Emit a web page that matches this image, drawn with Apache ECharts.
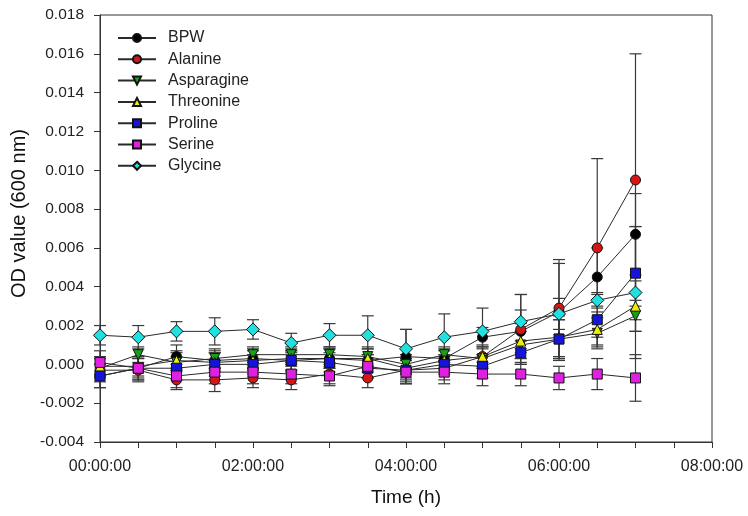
<!DOCTYPE html>
<html>
<head>
<meta charset="utf-8">
<script src="https://cdn.jsdelivr.net/npm/echarts@6/dist/echarts.min.js"></script>
<style>
  html, body { margin: 0; padding: 0; background: #fff; }
  #chart { width: 748px; height: 516px; }
</style>
</head>
<body>
<div id="chart"></div>
<script>
// Sampling times (hours)
const hours = [0, 0.5, 1, 1.5, 2, 2.5, 3, 3.5, 4, 4.5, 5, 5.5, 6, 6.5, 7];

// Mean OD600 per medium
const bpw        = [-0.0006, -0.0002, 0.0004, 0.0002, 0.0003, 0.0002, 0.0003, 0.0002, 0.0004, 0.0003, 0.0014, 0.0017, 0.0027, 0.0045, 0.0067];
const alanine    = [-0.0003, -0.0003, -0.0008, -0.0008, -0.0007, -0.0008, -0.0005, -0.0007, -0.0003, -0.0002, 0.0004, 0.0018, 0.0029, 0.0060, 0.0095];
const asparagine = [-0.0002, 0.0005, 0.0001, 0.0003, 0.0005, 0.0005, 0.0005, 0.0004, 0.0000, 0.0005, 0.0003, 0.0010, 0.0013, 0.0016, 0.0025];
const threonine  = [-0.0001, -0.0001, 0.0002, 0.0001, 0.0002, 0.0003, 0.0003, 0.0003, -0.0002, 0.0002, 0.0004, 0.0012, 0.0014, 0.0018, 0.0030];
const proline    = [-0.0006, -0.0002, -0.0002, 0.0000, 0.0000, 0.0002, 0.0001, -0.0002, -0.0003, 0.0000, -0.0001, 0.0006, 0.0013, 0.0023, 0.0047];
const serine     = [0.0001, -0.0002, -0.0006, -0.0004, -0.0004, -0.0005, -0.0006, -0.0001, -0.0004, -0.0004, -0.0005, -0.0005, -0.0007, -0.0005, -0.0007];
const glycine    = [0.0015, 0.0014, 0.0017, 0.0017, 0.0018, 0.0011, 0.0015, 0.0015, 0.0008, 0.0014, 0.0017, 0.0022, 0.0026, 0.0033, 0.0037];

// Standard deviations
const bpwErr        = [0.0006, 0.0005, 0.0006, 0.0005, 0.0005, 0.0006, 0.0005, 0.0006, 0.0014, 0.0005, 0.0005, 0.0011, 0.0025, 0.0015, 0.0021];
const alanineErr    = [0.0006, 0.0006, 0.0005, 0.0006, 0.0005, 0.0005, 0.0005, 0.0005, 0.0006, 0.0006, 0.0006, 0.0018, 0.0025, 0.0046, 0.0065];
const asparagineErr = [0.0005, 0.0004, 0.0005, 0.0005, 0.0004, 0.0004, 0.0004, 0.0005, 0.0005, 0.0004, 0.0005, 0.0007, 0.0010, 0.0008, 0.0008];
const threonineErr  = [0.0005, 0.0005, 0.0005, 0.0005, 0.0005, 0.0004, 0.0005, 0.0005, 0.0005, 0.0005, 0.0005, 0.0009, 0.0011, 0.0009, 0.0013];
const prolineErr    = [0.0006, 0.0006, 0.0006, 0.0006, 0.0005, 0.0005, 0.0005, 0.0005, 0.0005, 0.0005, 0.0006, 0.0006, 0.0010, 0.0013, 0.0024];
const serineErr     = [0.0006, 0.0006, 0.0006, 0.0006, 0.0006, 0.0005, 0.0005, 0.0006, 0.0006, 0.0006, 0.0006, 0.0006, 0.0006, 0.0008, 0.0012];
const glycineErr    = [0.0005, 0.0006, 0.0005, 0.0007, 0.0005, 0.0005, 0.0006, 0.0010, 0.0010, 0.0012, 0.0012, 0.0014, 0.0008, 0.0004, 0.0034];

// Series definitions
const groups = [
  { name: 'BPW',        mean: bpw,        err: bpwErr,        symbol: 'circle',   color: '#000000', size: 10 },
  { name: 'Alanine',    mean: alanine,    err: alanineErr,    symbol: 'circle',   color: '#d81414', size: 10 },
  { name: 'Asparagine', mean: asparagine, err: asparagineErr, symbol: 'path://M0,0 L10,0 L5,9 Z', color: '#18a018', size: 10 },
  { name: 'Threonine',  mean: threonine,  err: threonineErr,  symbol: 'triangle', color: '#eeee00', size: 10 },
  { name: 'Proline',    mean: proline,    err: prolineErr,    symbol: 'rect',     color: '#1414dc', size: 10 },
  { name: 'Serine',     mean: serine,     err: serineErr,     symbol: 'rect',     color: '#e020e0', size: 10 },
  { name: 'Glycine',    mean: glycine,    err: glycineErr,    symbol: 'diamond',  color: '#22e0e0', size: 13 }
];

const font = '"Liberation Sans", Arial, sans-serif';
const pad = n => (n < 10 ? '0' : '') + n;

const series = [];
groups.forEach((g, gi) => {
  // error bars (mean ± SD) with caps
  series.push({
    type: 'custom',
    name: g.name + ' SD',
    z: 1,
    silent: true,
    data: hours.map((h, i) => [h, g.mean[i] - g.err[i], g.mean[i] + g.err[i]]),
    renderItem: function (params, api) {
      const x = api.value(0);
      const lo = api.coord([x, api.value(1)]);
      const hi = api.coord([x, api.value(2)]);
      const hw = 6;
      const st = { stroke: '#3a3a3a', lineWidth: 1.2 };
      return {
        type: 'group',
        children: [
          { type: 'line', shape: { x1: lo[0], y1: lo[1], x2: hi[0], y2: hi[1] }, style: st },
          { type: 'line', shape: { x1: hi[0] - hw, y1: hi[1], x2: hi[0] + hw, y2: hi[1] }, style: st },
          { type: 'line', shape: { x1: lo[0] - hw, y1: lo[1], x2: lo[0] + hw, y2: lo[1] }, style: st }
        ]
      };
    },
    encode: { x: 0, y: [1, 2] }
  });
  // mean line with markers
  series.push({
    type: 'line',
    name: g.name,
    z: 3 + gi,
    data: hours.map((h, i) => [h, g.mean[i]]),
    symbol: g.symbol,
    symbolSize: g.size,
    showAllSymbol: true,
    lineStyle: { color: '#2a2a2a', width: 1 },
    itemStyle: { color: g.color, borderColor: '#111', borderWidth: 1 }
  });
});

const chart = echarts.init(document.getElementById('chart'), null, { renderer: 'canvas' });
chart.setOption({
  animation: false,
  backgroundColor: '#fff',
  grid: { left: 100, right: 36, top: 15, bottom: 74, show: true, borderColor: '#333', borderWidth: 1 },
  legend: {
    orient: 'vertical',
    left: 117,
    top: 30,
    padding: 0,
    itemWidth: 38,
    itemHeight: 10,
    itemGap: 5.3,
    data: groups.map(g => g.name),
    textStyle: { fontFamily: font, fontSize: 16, color: '#222', padding: [0, 0, 0, 7] }
  },
  xAxis: {
    type: 'value',
    min: 0,
    max: 8,
    interval: 2,
    name: 'Time (h)',
    nameLocation: 'middle',
    nameGap: 46,
    nameTextStyle: { fontFamily: font, fontSize: 19, color: '#111' },
    axisLine: { onZero: false, lineStyle: { color: '#333' } },
    axisTick: { show: true, inside: false, length: 6, lineStyle: { color: '#333' } },
    minorTick: { show: true, splitNumber: 4, length: 6, lineStyle: { color: '#333' } },
    splitLine: { show: false },
    axisLabel: {
      margin: 17,
      fontFamily: font, fontSize: 16, color: '#222',
      formatter: v => pad(Math.round(v)) + ':00:00'
    }
  },
  yAxis: {
    type: 'value',
    min: -0.004,
    max: 0.018,
    interval: 0.002,
    name: 'OD value (600 nm)',
    nameLocation: 'middle',
    nameGap: 60,
    nameTextStyle: { fontFamily: font, fontSize: 20, color: '#111', padding: [0, 0, 0, 30] },
    axisLine: { show: true, lineStyle: { color: '#333' } },
    axisTick: { show: true, inside: false, length: 6, lineStyle: { color: '#333' } },
    splitLine: { show: false },
    axisLabel: {
      margin: 16,
      fontFamily: font, fontSize: 15.5, color: '#222',
      formatter: v => v.toFixed(3)
    }
  },
  series: series
});
</script>
</body>
</html>
